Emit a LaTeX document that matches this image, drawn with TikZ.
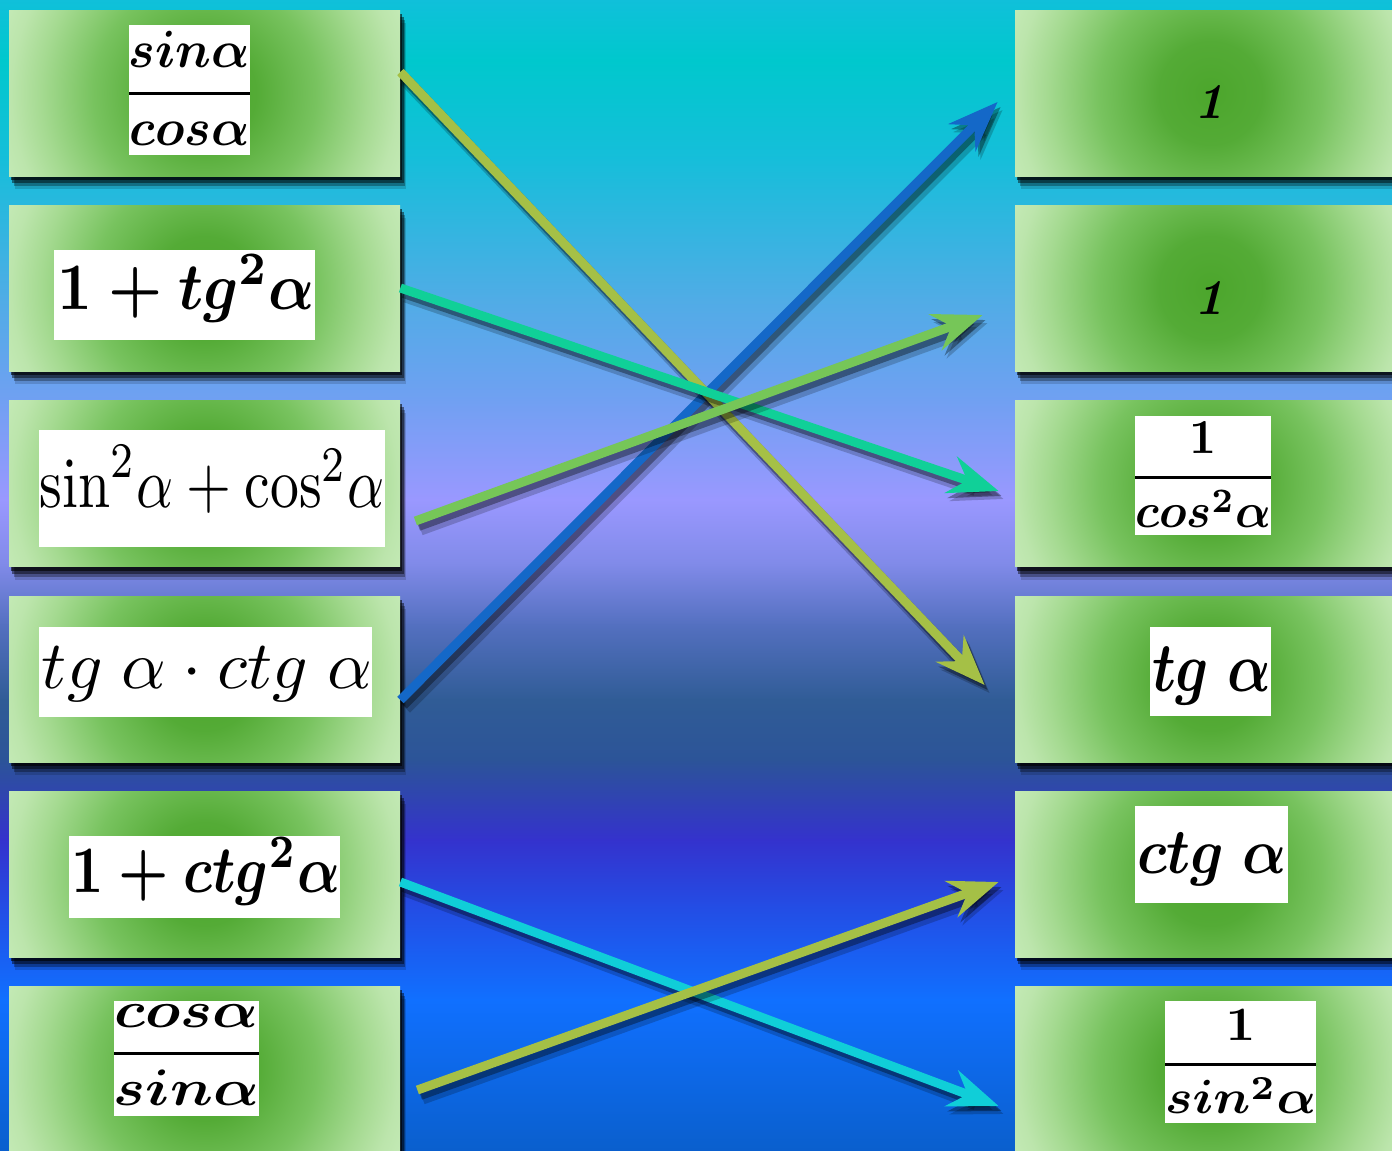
\documentclass[tikz,border=0pt]{standalone}
\usepackage{amsmath}
\usepackage{graphicx}
\usetikzlibrary{arrows.meta,calc}
\pgfdeclarelayer{bgl}
\pgfdeclarelayer{shl}
\pgfsetlayers{bgl,shl,main}
\newdimen\pxu \pxu=0.5pt
\setlength{\nulldelimiterspace}{0pt}
\newcommand{\fm}[3]{\resizebox*{#1\pxu}{#2\pxu}{#3}}
\newcommand{\tfr}[2]{\genfrac{}{}{0.6pt}{0}{#1}{#2}}

% background colours
\definecolor{b0}{RGB}{16,192,218}
\definecolor{b1}{RGB}{0,200,205}
\definecolor{b2}{RGB}{22,190,218}
\definecolor{b3}{RGB}{80,172,230}
\definecolor{b4}{RGB}{112,160,242}
\definecolor{b5}{RGB}{154,152,255}
\definecolor{b6}{RGB}{128,138,232}
\definecolor{b7}{RGB}{84,112,192}
\definecolor{b8}{RGB}{48,92,150}
\definecolor{b9}{RGB}{44,84,152}
\definecolor{b10}{RGB}{52,50,205}
\definecolor{b11}{RGB}{36,76,228}
\definecolor{b12}{RGB}{16,112,255}
\definecolor{b13}{RGB}{10,95,205}
% box colours
\definecolor{gA}{RGB}{76,166,44}
\definecolor{gB}{RGB}{84,171,54}
\definecolor{gC}{RGB}{120,195,95}
\definecolor{gD}{RGB}{165,218,145}
\definecolor{gE}{RGB}{188,229,172}
\definecolor{gF}{RGB}{196,234,182}
% arrow colours
\definecolor{aolive}{RGB}{165,192,70}
\definecolor{ateal}{RGB}{16,208,152}
\definecolor{agreen}{RGB}{118,198,88}
\definecolor{ablue}{RGB}{20,104,200}
\definecolor{acyan}{RGB}{16,206,216}

\pgfdeclareradialshading{boxshade}{\pgfpoint{0bp}{0bp}}{color(0bp)=(gA); color(6bp)=(gB); color(13bp)=(gC); color(19bp)=(gD); color(22.5bp)=(gE); color(25bp)=(gF); color(50bp)=(gF)}

\begin{document}
\begin{tikzpicture}[x=0.5pt,y=-0.5pt,
  box/.style={rectangle, minimum width=195.5pt, minimum height=83pt, inner sep=0pt,
    path picture={\shade[shading=boxshade] (path picture bounding box.center) circle (107.5pt);}},
  wbox/.style 2 args={rectangle, fill=white, inner sep=0pt, minimum width=#1\pxu, minimum height=#2\pxu},
  fml/.style={inner sep=0pt, text=black},
  arr/.style={line width=4.5pt, -{Stealth[length=25pt,width=19pt,inset=8.5pt]}},
  ashadowA/.style={arr, draw=black, opacity=0.35, line width=5pt, transform canvas={shift={(1.5pt,-2.5pt)}}},
  ashadowB/.style={arr, draw=black, opacity=0.2, line width=6.5pt, transform canvas={shift={(2.5pt,-4pt)}}}]

\useasboundingbox (0,0) rectangle (1392,1151);

\begin{pgfonlayer}{bgl}
\foreach \ya/\yb/\ca/\cb in {0/60/b0/b1, 60/160/b1/b2, 160/300/b2/b3, 300/400/b3/b4, 400/500/b4/b5, 500/565/b5/b6, 565/625/b6/b7, 625/700/b7/b8, 700/760/b8/b9, 760/840/b9/b10, 840/905/b10/b11, 905/1000/b11/b12, 1000/1151/b12/b13}
  \shade[top color=\ca, bottom color=\cb] (-1,\ya-0.6) rectangle (1393,\yb+0.6);
\end{pgfonlayer}

% boxes
\node[box] (L1) at (204.5,93) {};
\node[box] (L2) at (204.5,288) {};
\node[box] (L3) at (204.5,483.5) {};
\node[box] (L4) at (204.5,679) {};
\node[box] (L5) at (204.5,874) {};
\node[box] (L6) at (204.5,1069) {};
\node[box] (R1) at (1210.5,93) {};
\node[box] (R2) at (1210.5,288) {};
\node[box] (R3) at (1210.5,483.5) {};
\node[box] (R4) at (1210.5,679) {};
\node[box] (R5) at (1210.5,874) {};
\node[box] (R6) at (1210.5,1069) {};

\begin{pgfonlayer}{shl}
\foreach \n in {L1,L2,L3,L4,L5,L6,R1,R2,R3,R4,R5,R6}{
  \foreach \dx/\dy/\op in {1pt/2pt/0.6, 1.8pt/3.5pt/0.45, 2.5pt/5pt/0.3, 3pt/6.5pt/0.15}{
    \fill[black,opacity=\op] ([shift={(\dx,-\dy)}]\n.south west) rectangle ([shift={(\dx,-\dy)}]\n.north east);
  }
}
\end{pgfonlayer}

% white panels
\node[wbox={121}{130}] (WL1) at (189.5,90) {};
\node[wbox={261}{90}] (WL2) at (184.5,295) {};
\node[wbox={346}{117}] (WL3) at (212,488.5) {};
\node[wbox={333}{90}] (WL4) at (205.5,672) {};
\node[wbox={271}{82}] (WL5) at (204.5,877) {};
\node[wbox={145}{115}] (WL6) at (186.5,1058.5) {};
\node[wbox={136}{119}] (WR3) at (1203,475.5) {};
\node[wbox={121}{89}] (WR4) at (1210.5,671.5) {};
\node[wbox={153}{97}] (WR5) at (1211.5,854.5) {};
\node[wbox={151}{122}] (WR6) at (1240.5,1062) {};

% formulas
\node[fml] (FL1) at (189.5,88.5) {\fm{121}{115}{\boldmath$\tfr{sin\alpha}{cos\alpha}$}};
\node[fml] (FL2) at (186.5,288.5) {\fm{257}{67}{\boldmath$1+tg^2\alpha$}};
\node[fml] (FL3) at (212.5,479) {\fm{345}{68}{$\mathrm{sin}^2\alpha+\mathrm{cos}^2\alpha$}};
\node[fml] (FL4) at (207,674.5) {\fm{330}{55}{$tg\;\alpha\cdot ctg\;\alpha$}};
\node[fml] (FL5) at (206,871.5) {\fm{268}{67}{\boldmath$1+ctg^2\alpha$}};
\node[fml] (FL6) at (186.5,1055) {\fm{145}{100}{\boldmath$\tfr{cos\alpha}{sin\alpha}$}};
\node[fml] (FR1) at (1209,101.5) {\fontsize{25}{30}\selectfont\bfseries\itshape 1};
\node[fml] (FR2) at (1209,297.5) {\fontsize{25}{30}\selectfont\bfseries\itshape 1};
\node[fml] (FR3) at (1203,474.5) {\fm{136}{105}{\boldmath$\tfr{1}{cos^2\alpha}$}};
\node[fml] (FR4) at (1211.5,676) {\fm{119}{58}{\boldmath$tg\;\alpha$}};
\node[fml] (FR5) at (1212,859.5) {\fm{150}{53}{\boldmath$ctg\;\alpha$}};
\node[fml] (FR6) at (1240.5,1061.5) {\fm{151}{103}{\boldmath$\tfr{1}{sin^2\alpha}$}};

% arrows
\draw[ashadowB] ($(L4.east)+(0,21)$) -- ($(R1.west)+(-17,9)$);
\draw[ashadowA] ($(L4.east)+(0,21)$) -- ($(R1.west)+(-17,9)$);
\draw[arr, ablue] ($(L4.east)+(0,21)$) -- ($(R1.west)+(-17,9)$);
\draw[ashadowB] ($(L1.east)+(0,-21)$) -- ($(R4.west)+(-30,6)$);
\draw[ashadowA] ($(L1.east)+(0,-21)$) -- ($(R4.west)+(-30,6)$);
\draw[arr, aolive] ($(L1.east)+(0,-21)$) -- ($(R4.west)+(-30,6)$);
\draw[ashadowB] (L2.east) -- ($(R3.west)+(-16,7.5)$);
\draw[ashadowA] (L2.east) -- ($(R3.west)+(-16,7.5)$);
\draw[arr, ateal] (L2.east) -- ($(R3.west)+(-16,7.5)$);
\draw[ashadowB] ($(L3.east)+(15,37.5)$) -- ($(R2.west)+(-32,27)$);
\draw[ashadowA] ($(L3.east)+(15,37.5)$) -- ($(R2.west)+(-32,27)$);
\draw[arr, agreen] ($(L3.east)+(15,37.5)$) -- ($(R2.west)+(-32,27)$);
\draw[ashadowB] ($(L5.east)+(0,8)$) -- ($(R6.west)+(-16,37)$);
\draw[ashadowA] ($(L5.east)+(0,8)$) -- ($(R6.west)+(-16,37)$);
\draw[arr, acyan] ($(L5.east)+(0,8)$) -- ($(R6.west)+(-16,37)$);
\draw[ashadowB] ($(L6.east)+(17,21)$) -- ($(R5.west)+(-16,8)$);
\draw[ashadowA] ($(L6.east)+(17,21)$) -- ($(R5.west)+(-16,8)$);
\draw[arr, aolive] ($(L6.east)+(17,21)$) -- ($(R5.west)+(-16,8)$);
\end{tikzpicture}
\end{document}
